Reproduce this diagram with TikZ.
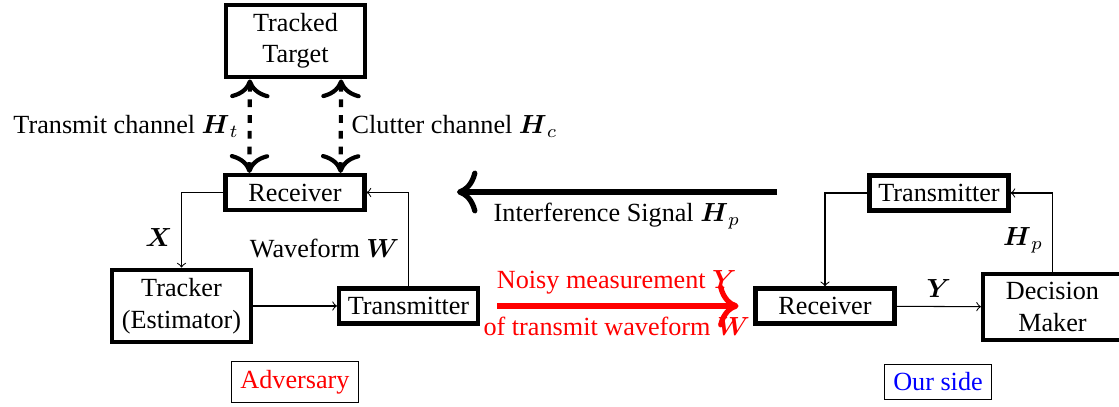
\documentclass[tikz,border=0pt]{standalone}
\usepackage{amsmath}
\usepackage{fontspec}
\setmainfont{Liberation Serif}
\usetikzlibrary{positioning,arrows.meta}
\tikzset{>=to, % plain open arrow heads
x=0.3817pt, y=-0.3817pt, % one unit is one pixel of the layout
block/.style={draw, ultra thick, minimum width=53pt, align=center}, % the boxes of both sides
tag/.style={draw, thin}, % the side names under each loop
bigtip/.style={-{Computer Modern Rightarrow[scale=1.3]}}, % heavy arrows
channel/.style={{Computer Modern Rightarrow[scale=1.4]}-{Computer Modern Rightarrow[scale=1.4]}, ultra thick, dashed}, % target channels
}

\begin{document}
\begin{tikzpicture}
\useasboundingbox (0,0) rectangle (1119,407);
% adversary side
\node[block] (target) at (295.5,41) {Tracked\\Target};
\node[block] (advrx) at (295,192.5) {Receiver};
\node[block] (tracker) at (181.5,306) {Tracker\\(Estimator)};
\node[block] (advtx) at (408.5,306) {Transmitter};
\node[tag, text=red] (advlabel) at (295,382) {Adversary};
% our side
\node[block] (ourtx) at (939,193) {Transmitter};
\node[block] (ourrx) at (825,306) {Receiver};
\node[block] (decision) at (1052.5,307) {Decision\\Maker};
\node[tag, text=blue] (ourlabel) at (938,382) {Our side};
\coordinate (itstart) at (777,192);
\coordinate (itend) at (457,192);

\draw[channel] ([xshift=-17.4pt]target.south) -- node[left, solid]{Transmit channel $\boldsymbol{H}_t$} ([xshift=-17.4pt]advrx.north);
\draw[channel] ([xshift=17.4pt]target.south) -- node[right, solid]{Clutter channel $\boldsymbol{H}_c$} ([xshift=17.4pt]advrx.north);
\draw[->] (advrx.west) -| node[pos=0.8, left]{$\boldsymbol{X}$} (tracker.north);
\draw[->] (tracker) -- (advtx);
\draw[->] (advtx.north) |- node[pos=0.2, left]{Waveform $\boldsymbol{W}$} (advrx.east);

\draw[bigtip, line width=2pt] (itstart) -- node[below]{Interference Signal $\boldsymbol{H}_p$} (itend);
\draw[bigtip, line width=2pt, red, shorten <=6.5pt, shorten >=5.7pt] (advtx) -- node[above]{Noisy measurement $\boldsymbol{Y}$} node[below]{of transmit waveform $\boldsymbol{W}$} (ourrx);

\draw[->] (ourtx.west) -| (ourrx.north);
\draw[->] (ourrx) -- node[above]{$\boldsymbol{Y}$} (decision);
\draw[->] (decision.north) |- node[pos=0.2, left]{$\boldsymbol{H}_p$} (ourtx.east);
\end{tikzpicture}
\end{document}
